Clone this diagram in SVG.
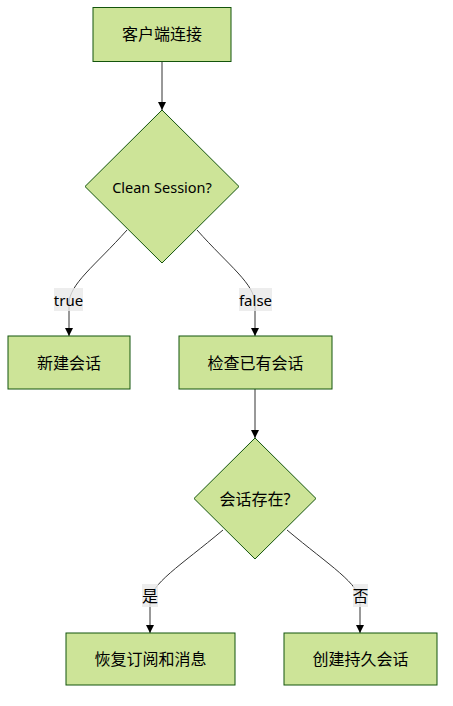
<svg xmlns="http://www.w3.org/2000/svg" width="453" height="706" viewBox="0 0 453 706">
<defs>
<style>
.node rect,.node polygon{fill:#cde498;stroke:#13540c;stroke-width:1}
.node text{font-family:"Noto Sans","Noto Sans CJK SC",sans-serif;font-size:16px;fill:#000;text-anchor:middle;dominant-baseline:central}
.node text.lat{font-size:14.5px}
.edge{fill:none;stroke:#333;stroke-width:1}
.lbl rect{fill:#e8e8e8;opacity:0.8}
.lbl text{font-family:"Noto Sans","Noto Sans CJK SC",sans-serif;font-size:15px;fill:#000;text-anchor:middle;dominant-baseline:central}
.lbl text.cjk{font-size:16px}
</style>
<marker id="arr" viewBox="0 0 10 10" refX="10" refY="5" markerWidth="8" markerHeight="8" markerUnits="userSpaceOnUse" orient="auto">
<path d="M0,0 L10,5 L0,10 z" fill="#000"/>
</marker>
</defs>
<g id="connectors">
<path class="edge" d="M162,61 L162,110" marker-end="url(#arr)"/>
<path class="edge" d="M127,230 C95,266 69,284 69,304 L69,336" marker-end="url(#arr)"/>
<path class="edge" d="M197,230 C229,266 255,284 255,304 L255,336" marker-end="url(#arr)"/>
<path class="edge" d="M255,389 L255,438" marker-end="url(#arr)"/>
<path class="edge" d="M223,530 C180,566 150,584 150,602 L150,633" marker-end="url(#arr)"/>
<path class="edge" d="M287,530 C330,566 360,584 360,602 L360,633" marker-end="url(#arr)"/>
<g class="lbl"><rect x="54" y="288" width="29" height="23"/><text x="68.5" y="299.5">true</text></g>
<g class="lbl"><rect x="239" y="288" width="33" height="23"/><text x="255.5" y="299.5">false</text></g>
<g class="lbl"><rect x="142" y="584" width="16" height="23"/><text class="cjk" x="150" y="595.5">是</text></g>
<g class="lbl"><rect x="353" y="584" width="15" height="23"/><text class="cjk" x="360.5" y="595.5">否</text></g>
</g>
<g id="n_connect" class="node"><rect x="93" y="7.5" width="138" height="54"/><text x="162" y="34">客户端连接</text></g>
<g id="n_clean" class="node"><polygon points="162,110 239,186.5 162,263 85,186.5"/><text class="lat" x="162" y="186.5">Clean Session?</text></g>
<g id="n_new" class="node"><rect x="8" y="336" width="122" height="53"/><text x="69" y="362.5">新建会话</text></g>
<g id="n_check" class="node"><rect x="179" y="336" width="153" height="53"/><text x="255.5" y="362.5">检查已有会话</text></g>
<g id="n_exists" class="node"><polygon points="255,438 316,498.5 255,559 194,498.5"/><text x="255" y="498.5">会话存在?</text></g>
<g id="n_restore" class="node"><rect x="66" y="633" width="169" height="52"/><text x="150.5" y="659">恢复订阅和消息</text></g>
<g id="n_create" class="node"><rect x="284" y="633" width="153" height="52"/><text x="360.5" y="659">创建持久会话</text></g>
</svg>
